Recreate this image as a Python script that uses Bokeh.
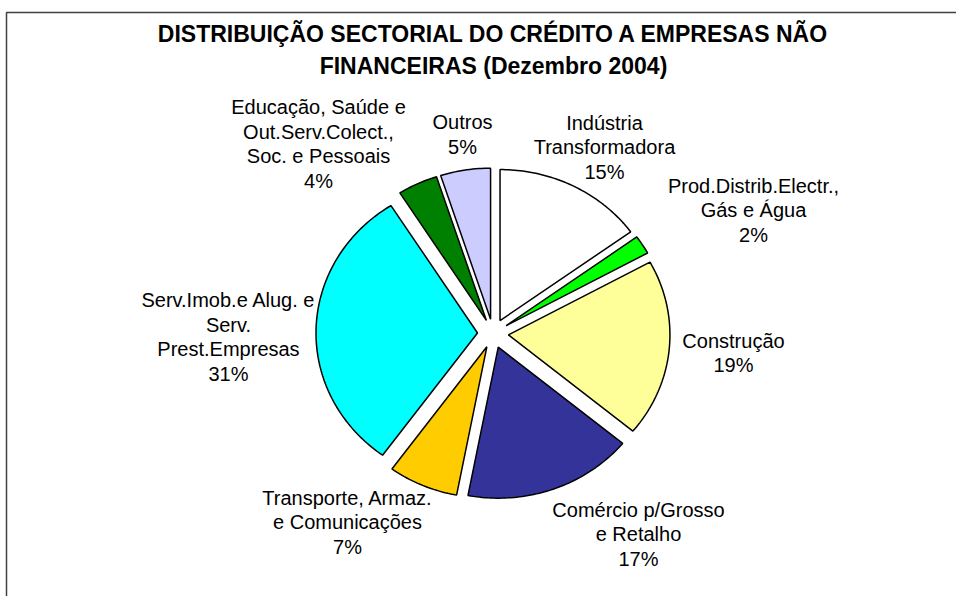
import numpy as np
from bokeh.plotting import figure
from bokeh.models import Range1d, ColumnDataSource
from bokeh.core.properties import value
from bokeh.embed import file_html
from bokeh.resources import INLINE

# ---- data ----
sectors = [
    "Indústria\nTransformadora",
    "Prod.Distrib.Electr.,\nGás e Água",
    "Construção",
    "Comércio p/Grosso\ne Retalho",
    "Transporte, Armaz.\ne Comunicações",
    "Serv.Imob.e Alug. e\nServ.\nPrest.Empresas",
    "Educação, Saúde e\nOut.Serv.Colect.,\nSoc. e Pessoais",
    "Outros",
]
shares = [15, 2, 19, 17, 7, 31, 4, 5]
colors = ["#FFFFFF", "#00FF00", "#FFFF99", "#333399", "#FFCC00", "#00FFFF", "#008000", "#CCCCFF"]
title_text = "DISTRIBUIÇÃO SECTORIAL DO CRÉDITO A EMPRESAS NÃO\nFINANCEIRAS (Dezembro 2004)"

# ---- layout (pixels, y downward) ----
W, H = 956, 596
CX, CY = 492.5, 333.0          # pie centre
RX, RY = 161.5, 151.0          # pie radii
EXPLODE = 0.096                # explosion as fraction of radius
LABEL_POS = [(604, 147), (753, 210), (733, 352.5), (638, 534),
             (347, 522), (228, 336.5), (318, 143.5), (462, 134)]
LABEL_SIZE = 20
TITLE_SIZE = 23
FONT_H = 1.149                 # ascent+descent of Liberation Sans (em)
FRAME_LEFT, FRAME_TOP = 6, 12  # chart-area border (open to the right/bottom)

total = float(sum(shares))
ends = np.cumsum(shares) / total * 2 * np.pi
starts = np.concatenate([[0.0], ends[:-1]])

xs, ys = [], []
for a0, a1 in zip(starts, ends):
    mid = 0.5 * (a0 + a1)
    ox = CX + EXPLODE * RX * np.sin(mid)
    oy = CY - EXPLODE * RY * np.cos(mid)
    n = max(4, int(np.degrees(a1 - a0)))
    t = np.linspace(a0, a1, n)
    px = np.concatenate([[ox], ox + RX * np.sin(t)])
    py = np.concatenate([[oy], oy - RY * np.cos(t)])
    xs.append(list(px))
    ys.append(list(py))

pie_src = ColumnDataSource(dict(xs=xs, ys=ys, color=colors))

labels = [f"{s}\n{v}%" for s, v in zip(sectors, shares)]
lab_src = ColumnDataSource(dict(x=[p[0] for p in LABEL_POS],
                                y=[p[1] for p in LABEL_POS],
                                text=labels))

p = figure(width=W, height=H, output_backend="svg", toolbar_location=None,
           x_range=Range1d(0, W), y_range=Range1d(H, 0),
           min_border=0, min_border_left=0, min_border_right=0,
           min_border_top=0, min_border_bottom=0)
p.axis.visible = False
p.grid.visible = False
p.outline_line_color = None
p.background_fill_color = "white"
p.border_fill_color = "white"

# chart-area border: left and top edges only (the rest lies outside the picture)
p.line(x=[FRAME_LEFT, FRAME_LEFT, W + 50], y=[H + 50, FRAME_TOP, FRAME_TOP],
       line_color="#404040", line_width=1.5)

p.patches("xs", "ys", source=pie_src, fill_color="color",
          line_color="black", line_width=1.5)

p.text("x", "y", text="text", source=lab_src, text_align="center",
       text_baseline="middle", text_font=value("Liberation Sans"),
       text_font_size=f"{LABEL_SIZE}px",
       text_line_height=25.8 / (FONT_H * LABEL_SIZE), text_color="black")

p.text(x=[493], y=[49.5], text=[title_text], text_align="center",
       text_baseline="middle", text_font=value("Liberation Sans"),
       text_font_style="bold", text_font_size=f"{TITLE_SIZE}px",
       text_line_height=33.0 / (FONT_H * TITLE_SIZE), text_color="black")

open("out.html", "w").write(file_html(p, INLINE))
